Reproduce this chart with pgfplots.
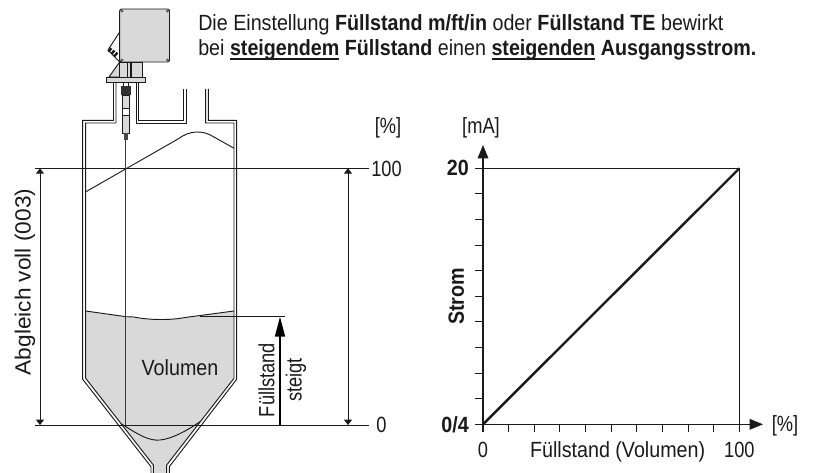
\documentclass[border=0pt]{standalone}
\usepackage{pgfplots}
\pgfplotsset{compat=1.18}
\usepackage{fontspec}
\setmainfont{Liberation Sans}[FakeStretch=0.895]
\newfontfamily\numf{Liberation Sans}[FakeStretch=0.83]
\newfontfamily\widef{Liberation Sans}[FakeStretch=1.03]
\usetikzlibrary{arrows.meta}
\definecolor{fillg}{HTML}{D9D9D9}
\definecolor{ink}{HTML}{1A1A1A}
\newcommand{\fs}{\fontsize{16.5pt}{18pt}\selectfont}
\newcommand{\ul}[1]{\setbox0=\hbox{#1}\rlap{\vrule width\wd0 height -2.1pt depth 3.1pt}\box0\relax}
\begin{document}
\begin{tikzpicture}
\useasboundingbox (0,0) rectangle (609.75pt,354.75pt);
\begin{axis}[at={(0,0)},anchor=south west,scale only axis,width=609.75pt,height=354.75pt,
  hide axis,clip=false,xmin=0,xmax=813,ymin=0,ymax=473,y dir=reverse]
\tikzset{every node/.style={font=\fs,text=ink,inner sep=0pt},
  w/.style={line width=0.7pt,draw=ink}}
% fill
\fill[fillg] (85.7,311) -- (126,316.7) -- (134,317) .. controls (148,320) and (170,320.5) .. (185,317.5) -- (234,311) -- (234,378.3) -- (166.7,465) -- (166.7,473) -- (153.3,473) -- (153.3,465) -- (85.7,378.3) -- cycle;
% level lines
\draw[w] (35,168.3) -- (369.3,168.3);
\draw[w] (35,425) -- (369.3,425);
% rod
\draw[w,draw=ink!85] (125.7,140) -- (125.7,425);
% tank walls
\draw[w,line join=miter] (113.5,82) -- (113.5,120.3) -- (82.7,120.3) -- (82.7,379.3) -- (151,466.7) -- (151,473);
\draw[w,line join=miter] (116,82) -- (116,123) -- (85.7,123) -- (85.7,378.3) -- (153.3,465) -- (153.3,473);
\draw[w,line join=miter] (136,82) -- (136,123) -- (186,123) -- (186,89);
\draw[w,line join=miter] (138.5,82) -- (138.5,120.3) -- (183.3,120.3) -- (183.3,89);
\draw[w,line join=miter] (205.7,89) -- (205.7,123) -- (234,123) -- (234,378.3) -- (166.7,465) -- (166.7,473);
\draw[w,line join=miter] (208.3,89) -- (208.3,120.3) -- (236.7,120.3) -- (236.7,379.3) -- (169.3,466.7) -- (169.3,473);
% product surfaces
\draw[w] (86,191.7) -- (178,139) .. controls (190,130) and (203,130) .. (214,137) -- (234,148.3);
\draw[w] (85.7,311) -- (126,316.7) -- (134,317) .. controls (148,320) and (170,320.5) .. (185,317.5) -- (234,311);
\draw[w] (121.7,424) .. controls (140,436) and (150,441) .. (160,440) .. controls (172,439) and (188,430) .. (200,421.7);
% transmitter
\draw[w,fill=white] (119.7,32) -- (108,50) -- (119.7,62) -- cycle;
\fill[ink] (107.5,51) -- ++(3,-3.5) -- ++(1.8,1.5) -- ++(-3,3.5) -- cycle;
\fill[ink] (110.5,53.2) -- ++(3,-3.5) -- ++(1.8,1.5) -- ++(-3,3.5) -- cycle;
\fill[ink] (113.5,55.4) -- ++(3,-3.5) -- ++(1.8,1.5) -- ++(-3,3.5) -- cycle;
\draw[w,fill=fillg] (119.7,62) -- (109,77) -- (119.7,77) -- cycle;
\draw[w,fill=fillg] (119.7,62) rectangle (142,77);
\draw[w] (127,62) -- (127,77);
\draw[w,line width=1pt] (131,62) -- (131,77);
\draw[w,fill=fillg] (106.5,77) rectangle (145.8,82);
\draw[w,fill=fillg,rounded corners=1.5pt] (119.7,9) rectangle (169.5,62);
\fill[ink!70] (122,11) circle[radius=1.3pt];
\fill[ink!70] (167.5,11) circle[radius=1.3pt];
\fill[ink!70] (122,60) circle[radius=1.3pt];
\fill[ink!70] (167.5,60) circle[radius=1.3pt];
% sensor
\fill[ink!90] (121,86) rectangle (130.5,95);
\draw[w,fill=fillg] (122.5,95) rectangle (129,108.5);
\draw[w,fill=white] (122.5,108.5) rectangle (129,115);
\draw[w,fill=fillg] (122.5,115) rectangle (129,133);
\fill[ink!80] (124,133) rectangle (127.5,140);
\draw[w] (123,82) -- (123,86);\draw[w] (128.5,82) -- (128.5,86);
% dimension arrows
\draw[w,{Triangle[length=4pt,width=6pt]}-{Triangle[length=4pt,width=6pt]}] (40,168.3) -- (40,425);
\draw[w,{Triangle[length=4pt,width=6pt]}-{Triangle[length=4pt,width=6pt]}] (348,168.3) -- (348,425);
% level rising
\draw[w] (200,316.7) -- (285,316.7);
\draw[line width=1.3pt,draw=black,-{Triangle[length=15pt,width=7.5pt]}] (280,425) -- (280,316.7);
% text
\node[anchor=base west] at (198,30.5) {Die Einstellung \textbf{Füllstand m/ft/in} oder \textbf{Füllstand TE} bewirkt};
\node[anchor=base west] at (198,55.5) {bei \textbf{\ul{steigendem} Füllstand} einen \textbf{\ul{steigenden} Ausgangsstrom.}};
\node[font=\fs\numf] at (388,128) {[\%]};
\node[anchor=west,font=\fs\numf] at (371,168.5) {100};
\node[anchor=west,font=\fs\numf] at (376,425) {0};
\node[rotate=90,font=\fs\widef] at (25,282) {Abgleich voll (003)};
\node at (180,368) {Volumen};
\node[rotate=90,font=\fs\numf] at (266.5,380) {Füllstand};
\node[rotate=90,font=\fs\numf] at (296,380) {steigt};
\node[font=\fs\numf] at (481,128) {[mA]};
\node[font=\fs\numf] at (785,426) {[\%]};
\end{axis}
\begin{axis}[at={(362.25pt,36.5pt)},anchor=south west,scale only axis,
  width=210pt,height=209.5pt,
  xmin=0,xmax=109.2,ymin=4,ymax=21.46,
  axis lines=left,clip=false,
  axis line style={line width=0.8pt,draw=ink,-{Triangle[length=10pt,width=8pt]}},
  xtick={0,10,...,100},
  xticklabels={0,,,,,,,,,,100},
  ytick={4,5.6,7.2,8.8,10.4,12,13.6,15.2,16.8,18.4,20},
  yticklabels={0/4,,,,,,,,,,20},
  tick style={line width=0.8pt,draw=ink},
  tick align=outside,
  major tick length=6pt,
  /pgf/number format/assume math mode=true,
  xticklabel style={font=\fs\numf,text=ink,inner sep=0pt,yshift=-7pt},
  yticklabel style={font=\fs\bfseries,text=ink,inner sep=0pt,xshift=-4.5pt},
  xlabel={Füllstand (Volumen)},
  xlabel style={font=\fs,text=ink,inner sep=0pt,at={(axis cs:52.5,4)},anchor=north,yshift=-12.5pt},
  ylabel={Strom},
  ylabel style={font=\fs\bfseries,text=ink,inner sep=0pt,at={(axis cs:0,12)},anchor=south,rotate=0,yshift=14pt},
]
\addplot[line width=0.6pt,draw=ink] coordinates {(0,20) (100,20) (100,4)};
\addplot[line width=1.8pt,draw=ink] coordinates {(0,4) (100,20)};
\end{axis}
\end{tikzpicture}
\end{document}
